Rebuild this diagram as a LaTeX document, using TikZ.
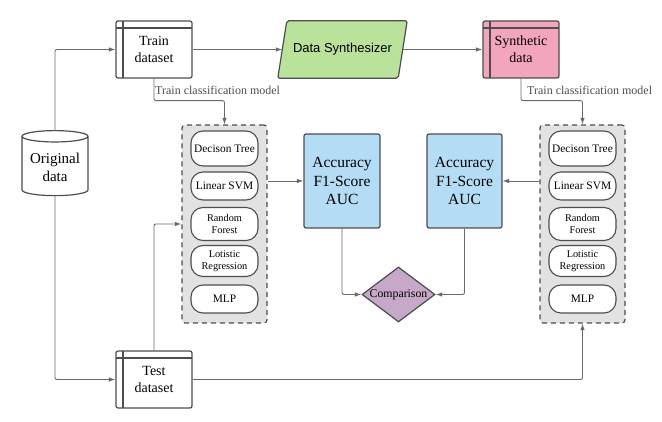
\documentclass[tikz,border=0pt]{standalone}
\usepackage{fontspec}
\setmainfont{Liberation Serif}
\newfontfamily\synthfont{Liberation Sans}
\usepackage{tikz}
\usetikzlibrary{arrows.meta}
\usetikzlibrary{shapes.geometric}
\usetikzlibrary{backgrounds}
\usetikzlibrary{positioning}
\usetikzlibrary{calc}
\definecolor{linecol}{RGB}{77,77,77}
\definecolor{wirecol}{RGB}{105,105,105}
\definecolor{synthgreen}{RGB}{187,226,155}
\definecolor{synthpink}{RGB}{242,165,187}
\definecolor{metricblue}{RGB}{180,220,245}
\definecolor{cmppurple}{RGB}{198,168,200}
\definecolor{groupgray}{RGB}{226,226,226}
\tikzset{>={Latex[length=6.5pt,width=4.5pt]}, semithick,
  datastore/.style={draw=linecol, line width=1.2pt, rounded corners=2pt, fill=#1,
    minimum width=76pt, minimum height=57pt, align=center, font=\fontsize{14}{17}\selectfont,
    path picture={
      \draw[linecol, line width=1.2pt] ([xshift=7pt]path picture bounding box.north west) -- ([xshift=7pt]path picture bounding box.south west);
      \draw[linecol, line width=1.2pt] ([yshift=-7pt]path picture bounding box.north west) -- ([yshift=-7pt]path picture bounding box.north east);}},
  datastore/.default=white,
  modelgroup/.style={draw=linecol, line width=1.2pt, dash pattern=on 5pt off 4pt, fill=groupgray, rounded corners=3pt,
    minimum width=85pt, minimum height=198pt},
  modelpill/.style={draw=linecol, line width=1.1pt, fill=white, rounded corners=12pt,
    minimum width=67pt, inner sep=1pt, align=center},
  metricbox/.style={draw=linecol, line width=1.2pt, fill=metricblue, rounded corners=2pt,
    minimum width=76pt, minimum height=94pt, align=center, font=\fontsize{15.5}{18.5}\selectfont},
  wire/.style={draw=wirecol, line width=0.9pt, rounded corners=2pt},
  wirelabel/.style={font=\fontsize{12}{14}\selectfont, text=linecol, inner sep=0pt}}
\begin{document}
\begin{tikzpicture}[x=1pt,y=-1pt]
\useasboundingbox (0,0) rectangle (662,422);
%% data sources
\node (orig) at (55,167.5) [draw=linecol, line width=1.2pt, cylinder, shape border rotate=90, aspect=0.2,
  minimum width=66pt, minimum height=65pt, align=center, font=\fontsize{15}{18}\selectfont] {Original\\data};
\node (train) at (154,49.5) [datastore] {Train\\dataset};
\node (test) at (154,379.5) [datastore] {Test\\dataset};
\node (synth) at (342.5,49.5) [minimum width=120pt, minimum height=57pt, inner sep=0pt,
  font=\synthfont\fontsize{13}{15}\selectfont] {Data Synthesizer};
\begin{scope}[on background layer]
\filldraw [draw=linecol, line width=1.2pt, fill=synthgreen, rounded corners=2pt]
  ($(synth.south west)+(-4.5,0)$) -- ($(synth.north west)+(4.5,0)$) -- ($(synth.north east)+(4.5,0)$)
  -- ($(synth.south east)+(-4.5,0)$) -- cycle;
\end{scope}
\node (synthd) at (521,49.5) [datastore=synthpink] {Synthetic\\data};
%% classifier groups
\node (grpL) at (224.5,224) [modelgroup] {};
\node (grpR) at (582.5,224) [modelgroup] {};
\foreach \side/\cx in {L/224.5, R/582.5} {
  \node (dt\side) at (\cx,148.5) [modelpill, minimum height=35pt, font=\fontsize{11.4}{13}\selectfont] {Decison Tree};
  \node (svm\side) at (\cx,186) [modelpill, minimum height=28pt, font=\fontsize{11.4}{13}\selectfont] {Linear SVM};
  \node (rf\side) at (\cx,224) [modelpill, minimum height=33pt, font=\fontsize{10.3}{12}\selectfont] {Random\\Forest};
  \node (lr\side) at (\cx,261) [modelpill, minimum height=31pt, font=\fontsize{10.3}{12}\selectfont] {Lotistic\\Regression};
  \node (mlp\side) at (\cx,299) [modelpill, minimum height=28pt, font=\fontsize{11.4}{13}\selectfont] {MLP};
}
%% metrics
\node (metL) at (342,181) [metricbox] {Accuracy\\F1-Score\\AUC};
\node (metR) at (464.5,181) [metricbox, minimum width=75pt] {Accuracy\\F1-Score\\AUC};
\node (cmp) at (398.5,294.5) [draw=linecol, line width=1.2pt, fill=cmppurple, diamond, aspect=1.33, inner sep=0pt,
  minimum width=73pt, minimum height=55pt, font=\fontsize{11.8}{13}\selectfont] {Comparison};
%% connectors
\draw [wire,->] (orig.north) |- (train.west);
\draw [wire,->] (orig.south) |- (test.west);
\draw [wire,->] (train.east) -- (synth.west);
\draw [wire,->] (synth.east) -- (synthd.west);
\draw [wire,->] (train.south) -- ++(0,22) -| (grpL.north);
\node (lblL) at (155,90) [wirelabel, anchor=west] {Train classification model};
\draw [wire,->] (synthd.south) -- ++(0,22) -| (grpR.north);
\node (lblR) at (527,90) [wirelabel, anchor=west] {Train classification model};
\draw [wire,->] (test.north) |- (grpL.west);
\draw [wire,->] (test.east) -| (grpR.south);
\draw [wire,->] (grpL.east |- metL.west) -- (metL.west);
\draw [wire,->] (grpR.west |- metR.east) -- (metR.east);
\draw [wire,->] (metL.south) |- (cmp.west);
\draw [wire,->] (metR.south) |- (cmp.east);
%
\end{tikzpicture}
\end{document}
